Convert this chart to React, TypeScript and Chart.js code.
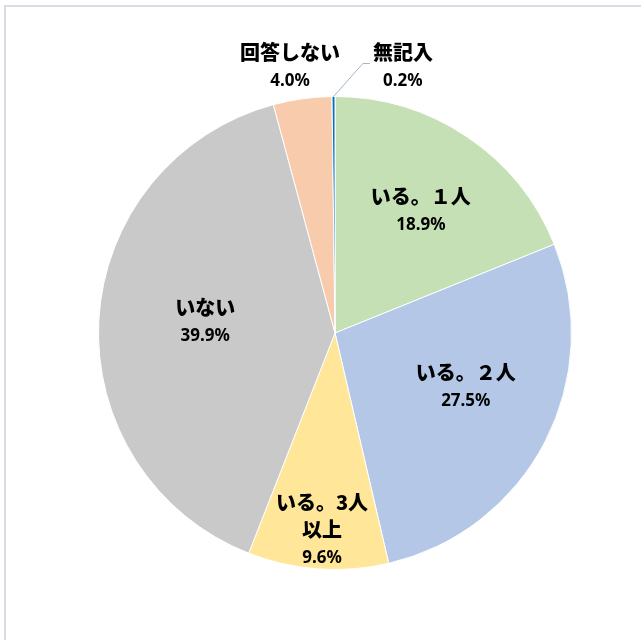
import React, { useEffect, useRef } from "react";
import { Chart, registerables } from "chart.js";

Chart.register(...registerables);

const categories = ["いる。１人", "いる。２人", "いる。3人\n以上", "いない", "回答しない", "無記入"];
const values = [18.9, 27.5, 9.6, 39.9, 4.0, 0.2];
const percentLabels = ["18.9%", "27.5%", "9.6%", "39.9%", "4.0%", "0.2%"];
const colors = ["#C5E0B4", "#B4C7E7", "#FFE699", "#C9C9C9", "#F8CBAD", "#0070C0"];
// first-line label anchors in units of radius relative to pie centre (dx, dy)
const labelAnchors: Array<[number, number]> = [
  [0.363, -0.578],
  [0.553, 0.165],
  [-0.055, 0.717],
  [-0.549, -0.11],
  [-0.19, -1.186],
  [0.287, -1.186],
];
const hasLeader = [false, false, false, false, false, true];

const labelPlugin = {
  id: "labels",
  afterDatasetsDraw(chart: any) {
    const ctx = chart.ctx;
    const meta = chart.getDatasetMeta(0);
    const arc0 = meta.data[0];
    const cx = arc0.x;
    const cy = arc0.y;
    const R = arc0.outerRadius;
    ctx.save();
    ctx.textAlign = "center";
    ctx.textBaseline = "middle";
    ctx.fillStyle = "#000";
    meta.data.forEach((arc: any, i: number) => {
      const [fx, fy] = labelAnchors[i];
      const x = cx + fx * R;
      const y = cy + fy * R;
      const lines = categories[i].split("\n");
      ctx.font = "900 20px 'Noto Sans CJK JP', sans-serif";
      let yy = y;
      lines.forEach((ln: string, k: number) => {
        ctx.fillText(ln, x, yy);
        if (k < lines.length - 1) yy += 27;
      });
      ctx.font = "bold 17px 'Noto Sans', sans-serif";
      ctx.fillText(percentLabels[i], x, yy + 29);
      if (hasLeader[i]) {
        const mid = (arc.startAngle + arc.endAngle) / 2;
        const ex = cx + Math.cos(mid) * R;
        const ey = cy + Math.sin(mid) * R;
        ctx.strokeStyle = "#A5B4CC";
        ctx.lineWidth = 1;
        ctx.beginPath();
        ctx.moveTo(ex, ey);
        ctx.lineTo(x - 40, y + 11);
        ctx.lineTo(x - 33, y + 11);
        ctx.stroke();
      }
    });
    ctx.restore();
  },
};

const framePlugin = {
  id: "frame",
  beforeDraw(chart: any) {
    const ctx = chart.ctx;
    ctx.save();
    ctx.fillStyle = "#fff";
    ctx.fillRect(0, 0, chart.width, chart.height);
    ctx.strokeStyle = "#D9DCE2";
    ctx.lineWidth = 2;
    ctx.strokeRect(5, 6, chart.width + 10, chart.height + 10);
    ctx.restore();
  },
};

export default function App() {
  const ref = useRef<HTMLCanvasElement>(null);
  useEffect(() => {
    document.body.style.margin = "0";
    const chart = new Chart(ref.current!, {
      type: "pie",
      data: {
        labels: categories,
        datasets: [
          {
            data: values,
            backgroundColor: colors,
            borderColor: "#ffffff",
            borderWidth: 1,
          },
        ],
      },
      options: {
        responsive: false,
        animation: false,
        layout: { padding: { left: 98, right: 69, top: 96, bottom: 70 } },
        plugins: {
          legend: { display: false },
          tooltip: { enabled: false },
          title: { display: false },
        },
      },
      plugins: [framePlugin, labelPlugin],
    });
    return () => chart.destroy();
  }, []);
  return (
    <div style={{ width: 641, height: 640 }}>
      <canvas ref={ref} width={641} height={640} style={{ display: "block" }} />
    </div>
  );
}
